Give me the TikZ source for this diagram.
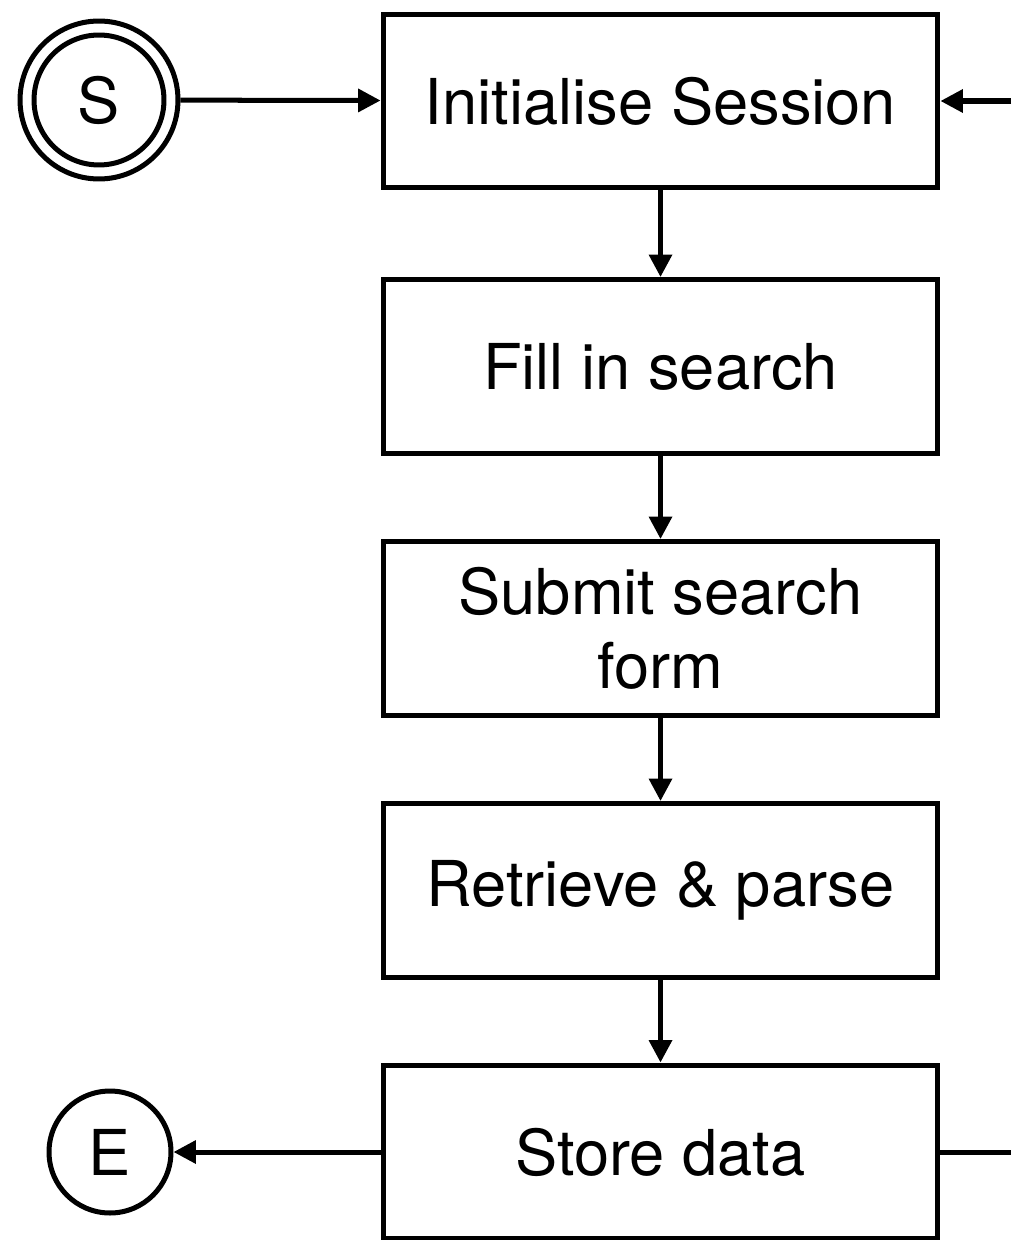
\documentclass[tikz,border=0pt]{standalone}
\usepackage{fontspec}
\setmainfont{TeX Gyre Heros}
\usetikzlibrary{arrows.meta, positioning}

\begin{document}
\begin{tikzpicture}[
    x=0.02cm, y=-0.02cm,
    every node/.style={font=\fontsize{36}{42}\selectfont},
    box/.style={rectangle, draw, line width=2.85pt, minimum width=11.1cm, minimum height=3.48cm, align=center, inner sep=0pt},
    state/.style={circle, draw, line width=2.85pt, inner sep=0pt},
    arrow/.style={line width=2.85pt, -{Triangle[length=0.45cm, width=0.45cm]}}
]
\useasboundingbox (0,0) rectangle (1011,1240);

\node[box] (init) at (660.5,101) {Initialise Session};
\node[box] (fill) at (660.5,366.5) {Fill in search};
\node[box] (submit) at (660.5,628.5) {Submit search\\form};
\node[box] (parse) at (660.5,890.5) {Retrieve \& parse};
\node[box] (store) at (660.5,1152) {Store data};

\node[state, minimum size=3.16cm] (start) at (99,100) {};
\node[state, minimum size=2.6cm] at (start) {S};
\node[state, minimum size=2.44cm] (end) at (110,1152) {E};

\coordinate (loopin) at (1011,101);
\coordinate (loopout) at (1011,1152);

\draw[arrow] (start) -- (init);
\draw[arrow] (init) -- (fill);
\draw[arrow] (fill) -- (submit);
\draw[arrow] (submit) -- (parse);
\draw[arrow] (parse) -- (store);
\draw[arrow] (store) -- (end);
\draw[arrow] (loopin) -- (init);
\draw[line width=2.85pt] (store) -- (loopout);

\end{tikzpicture}
\end{document}
